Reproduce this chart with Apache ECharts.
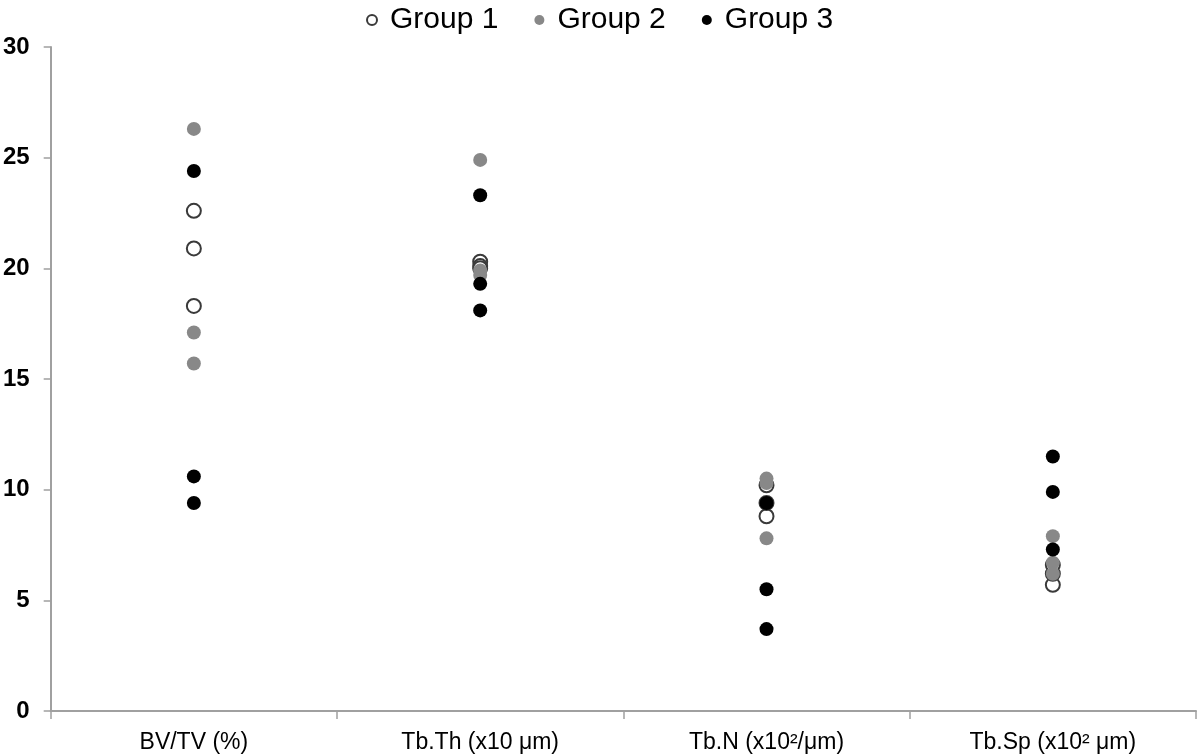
<!DOCTYPE html>
<html><head><meta charset="utf-8">
<script src="https://cdn.jsdelivr.net/npm/echarts@6/dist/echarts.min.js"></script>
<style>html,body{margin:0;padding:0;background:#fff}#c{width:1200px;height:756px}</style>
</head><body><div id="c"></div>
<script>
const categories = ['BV/TV (%)', 'Tb.Th (x10 μm)', 'Tb.N (x10²/μm)', 'Tb.Sp (x10² μm)'];
const yTicks = [0, 5, 10, 15, 20, 25, 30];
const group1 = [[22.6, 20.9, 18.3], [20.3, 20.1, 20.0], [10.2, 8.8, 9.4], [5.7, 6.2, 6.6]];
const group2 = [[26.3, 17.1, 15.7], [24.9, 19.9, 19.7], [10.5, 7.8, 10.3], [7.9, 6.7, 6.2]];
const group3 = [[24.4, 10.6, 9.4], [23.3, 19.3, 18.1], [9.4, 5.5, 3.7], [11.5, 9.9, 7.3]];
const groupNames = ['Group 1', 'Group 2', 'Group 3'];

function toPoints(g) {
  const out = [];
  g.forEach((vals, i) => vals.forEach(v => out.push([categories[i], v])));
  return out;
}
const styles = [
  {color: '#ffffff', borderColor: '#3a3a3a', borderWidth: 2, opacity: 1},
  {color: '#888888', borderColor: '#888888', borderWidth: 0, opacity: 1},
  {color: '#000000', borderColor: '#000000', borderWidth: 0, opacity: 1}
];
const chart = echarts.init(document.getElementById('c'));
chart.setOption({
  animation: false,
  grid: {left: 50, right: 4, top: 47, bottom: 45},
  legend: {
    top: 0, left: 361, itemWidth: 26, itemHeight: 10, itemGap: 36,
    icon: 'circle',
    textStyle: {fontFamily: 'Liberation Sans, Arial', fontSize: 30, lineHeight: 30, color: '#000'},
    data: groupNames
  },
  xAxis: {
    type: 'category', data: categories, boundaryGap: true,
    axisLine: {lineStyle: {color: '#a0a0a0', width: 2}},
    axisTick: {show: true, length: 8, lineStyle: {color: '#a0a0a0', width: 1.5}},
    axisLabel: {fontFamily: 'Liberation Sans, Arial', fontSize: 23, color: '#000', margin: 20},
    splitLine: {show: false}
  },
  yAxis: {
    type: 'value', min: yTicks[0], max: yTicks[yTicks.length - 1], interval: 5,
    axisLine: {show: true, lineStyle: {color: '#a0a0a0', width: 2}},
    axisTick: {show: true, length: 7, lineStyle: {color: '#a0a0a0', width: 1.5}},
    axisLabel: {fontFamily: 'Liberation Sans, Arial', fontSize: 24, color: '#000', fontWeight: 'bold', margin: 21},
    splitLine: {show: false}
  },
  series: [group1, group2, group3].map((g, i) => ({
    name: groupNames[i], type: 'scatter', symbol: 'circle', symbolSize: 14,
    itemStyle: styles[i], data: toPoints(g), z: 2 + i
  }))
});
</script></body></html>
